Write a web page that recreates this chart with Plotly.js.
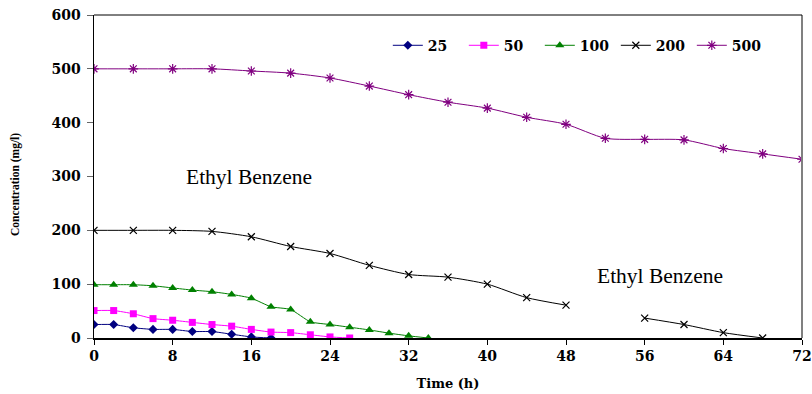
<!DOCTYPE html>
<html>
<head>
<meta charset="utf-8">
<script src="https://cdn.plot.ly/plotly-3.0.1.min.js"></script>
<style>html,body{margin:0;padding:0;background:#fff;}#chart{width:812px;height:394px;}</style>
</head>
<body>
<div id="chart"></div>
<script>
// Time (h) for each series
const time25  = [0,2,4,6,8,10,12,14,16,18];
const conc25  = [25,25,19,16,16,12,12,7,2,0];

const time50  = [0,2,4,6,8,10,12,14,16,18,20,22,24,26];
const conc50  = [51,51,45,36,33,29,25,22,16,11,10,6,2,0];

const time100 = [0,2,4,6,8,10,12,14,16,18,20,22,24,26,28,30,32,34];
const conc100 = [99,99,99,97,93,89,86,81,74,58,53,30,25,20,15,9,4,0];

const time200 = [0,4,8,12,16,20,24,28,32,36,40,44,48,52,56,60,64,68];
const conc200 = [200,200,200,198,188,170,157,135,118,113,100,75,61,null,37,25,10,0];

const time500 = [0,4,8,12,16,20,24,28,32,36,40,44,48,52,56,60,64,68,72];
const conc500 = [500,500,500,500,496,492,483,468,452,438,427,410,397,371,369,368,352,342,332];

const seriesNames = ["25","50","100","200","500"];
const xTicks = [0,8,16,24,32,40,48,56,64,72];
const yTicks = [0,100,200,300,400,500,600];
const labelText = "Ethyl Benzene";
const yTitle = "Concentration (mg/l)";

const tickFont = {family:"DejaVu Serif", size:14, color:"#000", weight:"bold"};

const traces = [
  {x:time25, y:conc25, name:seriesNames[0], mode:"lines+markers",
   line:{color:"#000080", width:1, shape:"spline", smoothing:0.5},
   marker:{symbol:"diamond", size:7, color:"#000080"}},
  {x:time50, y:conc50, name:seriesNames[1], mode:"lines+markers",
   line:{color:"#FF00FF", width:1, shape:"spline", smoothing:0.5},
   marker:{symbol:"square", size:7, color:"#FF00FF"}},
  {x:time100, y:conc100, name:seriesNames[2], mode:"lines+markers",
   line:{color:"#008000", width:1, shape:"spline", smoothing:0.5},
   marker:{symbol:"triangle-up", size:8, color:"#008000"}},
  {x:time200, y:conc200, name:seriesNames[3], mode:"lines+markers", connectgaps:false,
   line:{color:"#000000", width:1, shape:"spline", smoothing:0.7},
   marker:{symbol:"x-thin-open", size:7, color:"#000000", line:{color:"#000000", width:1.2}}},
  {x:time500, y:conc500, name:seriesNames[4], mode:"lines+markers",
   line:{color:"#800080", width:1, shape:"spline", smoothing:0.7},
   marker:{symbol:"asterisk-open", size:8, color:"#800080", line:{color:"#800080", width:1.2}}}
];

const layout = {
  width:812, height:394,
  margin:{l:94, r:10, t:15, b:56},
  paper_bgcolor:"#fff", plot_bgcolor:"#fff",
  showlegend:true,
  legend:{orientation:"h", x:0.415, xanchor:"left", y:0.905, yanchor:"middle",
          font:tickFont, bgcolor:"rgba(0,0,0,0)", itemwidth:30, traceorder:"normal",
          entrywidth:31, entrywidthmode:"pixels"},
  xaxis:{range:[0,72], tickvals:xTicks, ticktext:xTicks.map(String),
         showgrid:false, zeroline:false, showline:true, linecolor:"#000", linewidth:1.5,
         ticks:"outside", ticklen:5, tickcolor:"#000", tickwidth:1,
         tickfont:tickFont,
         title:{text:"Time (h)", font:{family:"DejaVu Serif", size:13, color:"#000", weight:"bold"}, standoff:15}},
  yaxis:{range:[0,600], tickvals:yTicks, ticktext:yTicks.map(String),
         showgrid:false, zeroline:false, showline:true, linecolor:"#000", linewidth:1.5,
         ticks:"outside", ticklen:6, tickcolor:"#666", tickwidth:1, ticklabelstandoff:3,
         tickfont:tickFont},
  shapes:[
    {type:"line", xref:"paper", yref:"paper", x0:1, x1:1, y0:0, y1:1, line:{color:"#808080", width:2}},
    {type:"line", xref:"paper", yref:"paper", x0:0, x1:1, y0:1, y1:1, line:{color:"#000", width:1}}
  ],
  annotations:[
    {x:15.8, y:299, xref:"x", yref:"y", text:labelText, showarrow:false,
     font:{family:"Liberation Serif", size:21.5, color:"#000"}},
    {x:57.6, y:115, xref:"x", yref:"y", text:labelText, showarrow:false,
     font:{family:"Liberation Serif", size:21.5, color:"#000"}},
    {x:-0.110, y:0.474, xref:"paper", yref:"paper", text:yTitle, showarrow:false, textangle:-90,
     xanchor:"center", yanchor:"middle",
     font:{family:"Liberation Serif", size:11.5, color:"#000", weight:"bold"}}
  ]
};

Plotly.newPlot("chart", traces, layout, {displayModeBar:false, staticPlot:true});
</script>
</body>
</html>
